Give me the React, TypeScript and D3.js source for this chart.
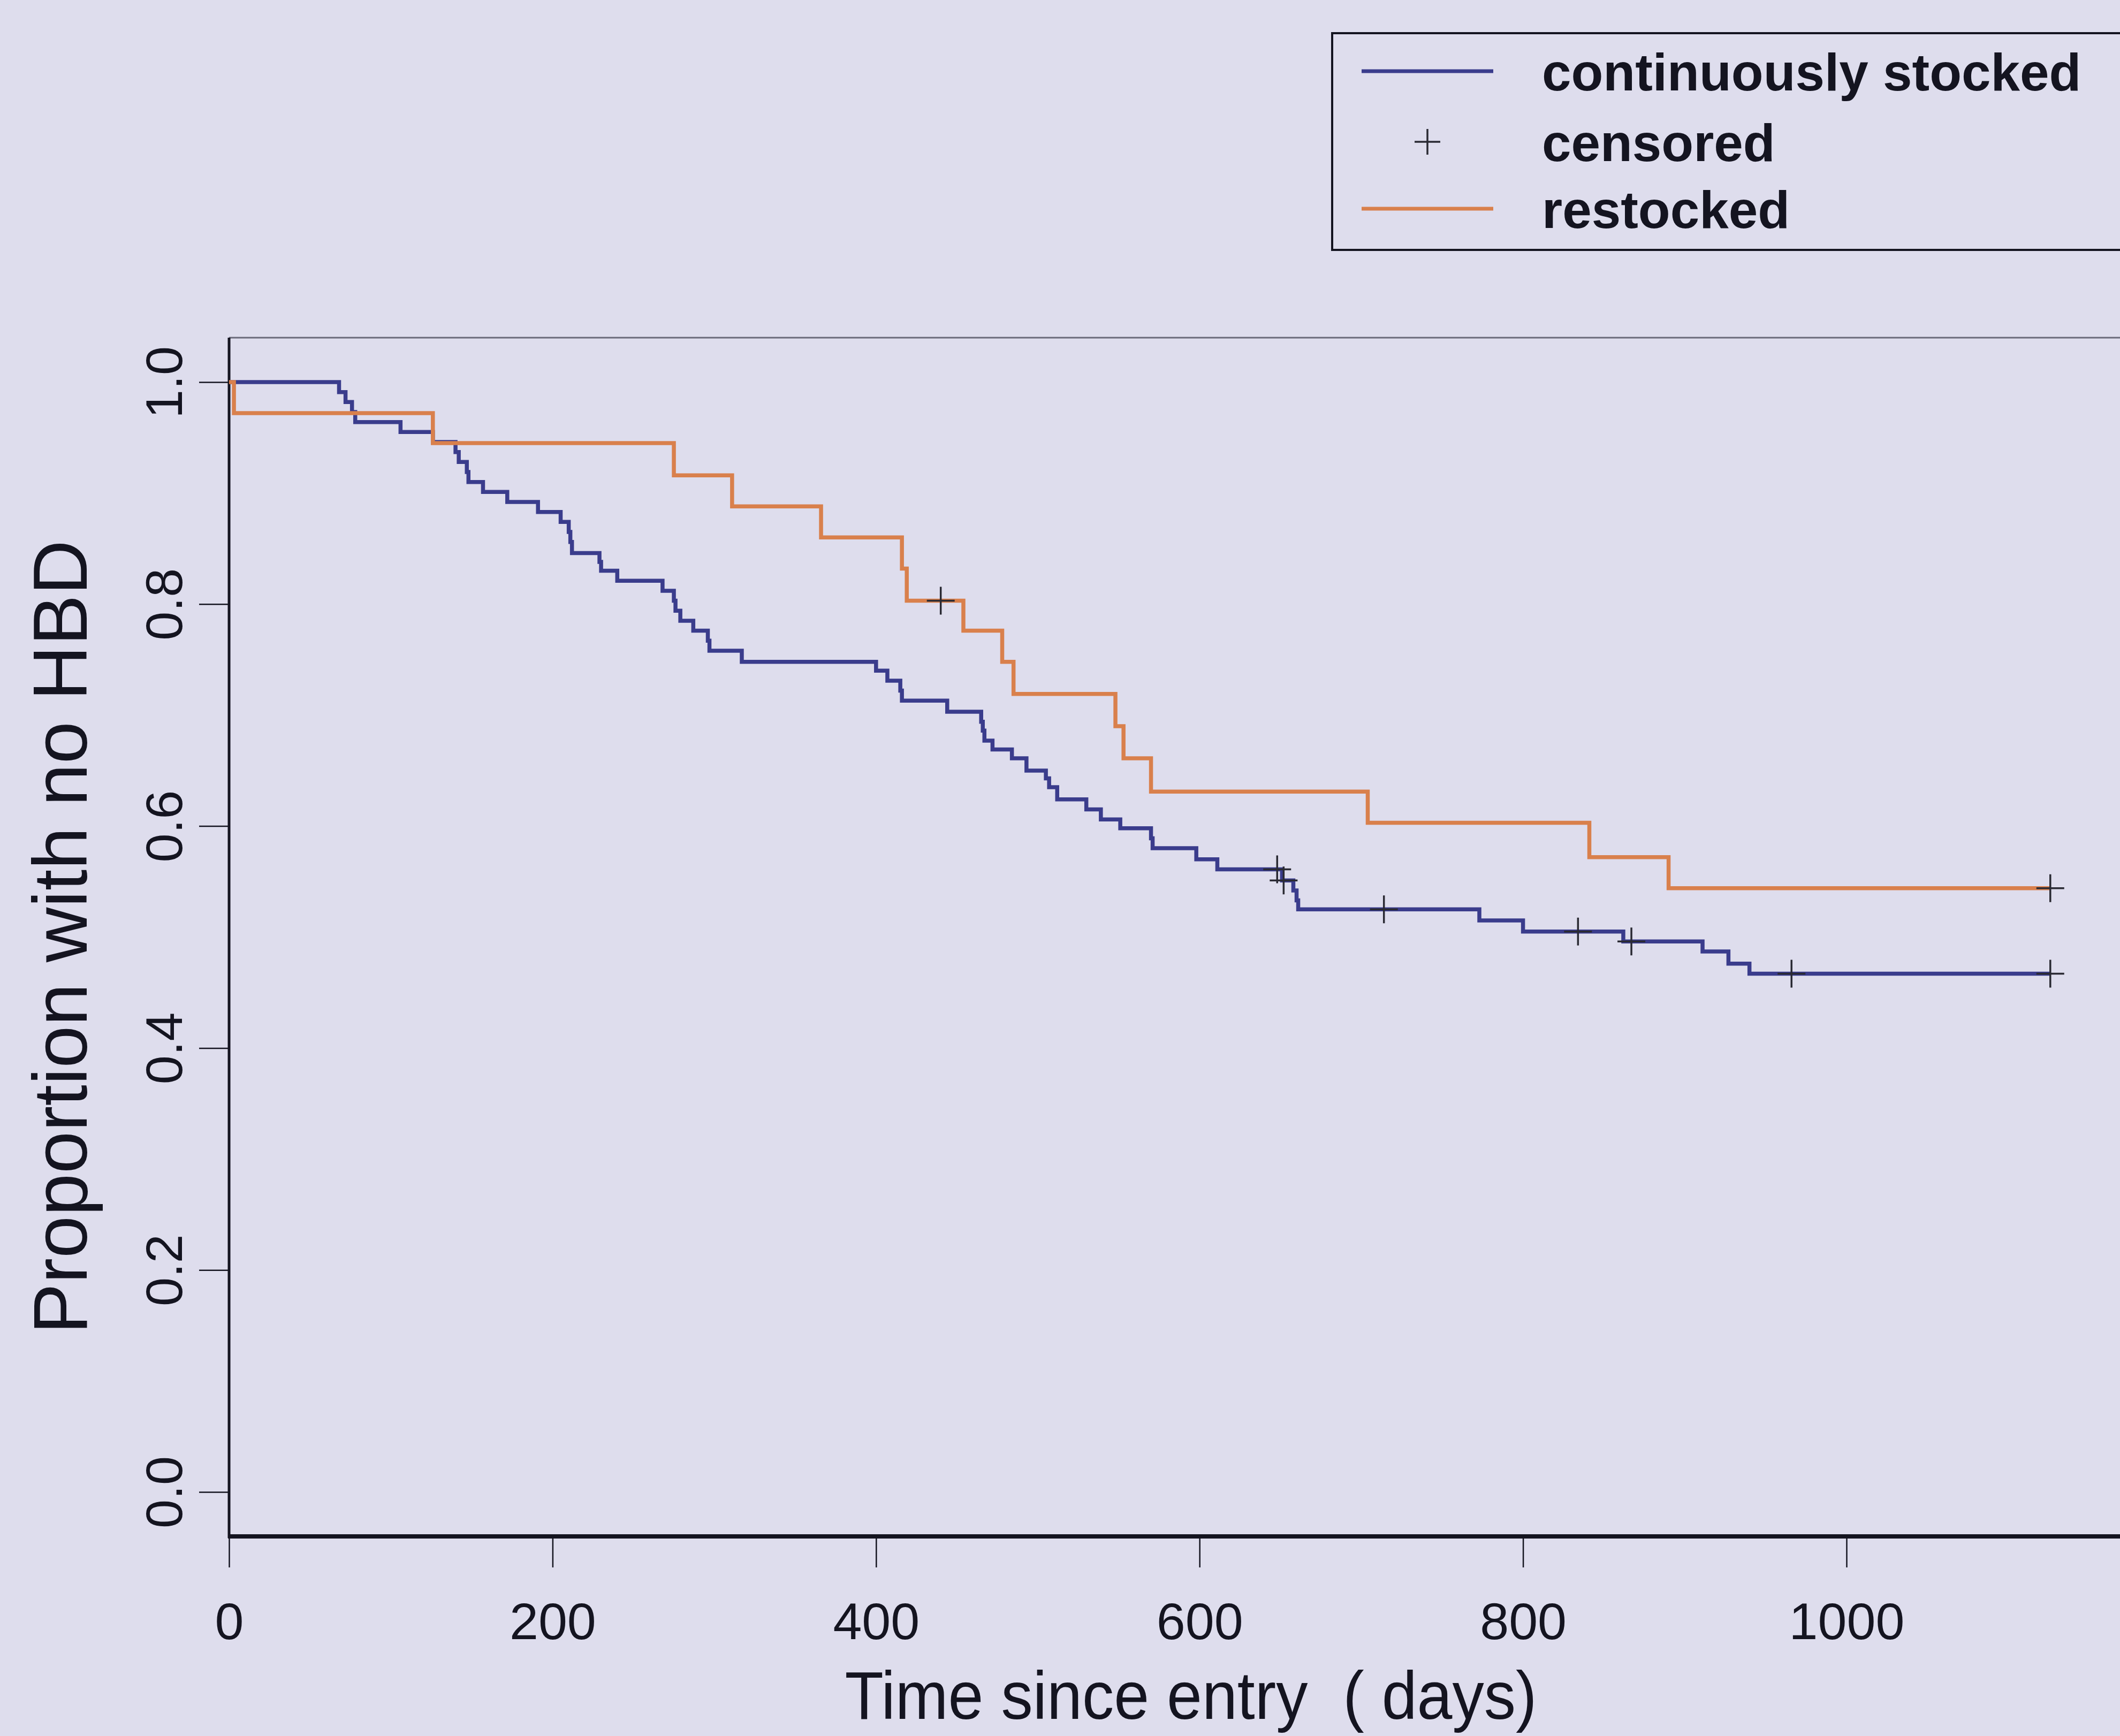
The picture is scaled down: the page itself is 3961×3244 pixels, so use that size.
import { useRef, useEffect } from 'react';
import * as d3 from 'd3';

const W = 3961, H = 3244;

/* ── Kaplan–Meier steps (day, proportion) ───────────────────────── */
const contTimes = [0, 68, 72, 76, 78, 106, 126, 140, 142, 147, 148, 157, 172, 191, 205, 210, 211, 212, 229, 230, 240,
  268, 275, 276, 279, 287, 296, 297, 317, 400, 407, 415, 416, 444, 465, 466, 467, 472, 484, 493, 505, 507, 512,
  530, 539, 551, 570, 571, 598, 611, 651, 658, 660, 661, 773, 800, 862, 911, 927, 940, 1126];
const contSurv = [1.0, 0.991, 0.982, 0.973, 0.964, 0.955, 0.946, 0.937, 0.928, 0.919, 0.910, 0.901, 0.892, 0.883, 0.874, 0.865, 0.856, 0.846, 0.838, 0.830, 0.821,
  0.812, 0.803, 0.794, 0.785, 0.776, 0.767, 0.758, 0.748, 0.740, 0.731, 0.722, 0.713, 0.703, 0.694, 0.686, 0.677, 0.669, 0.661, 0.650, 0.643, 0.635, 0.624,
  0.615, 0.606, 0.598, 0.589, 0.580, 0.570, 0.561, 0.551, 0.542, 0.533, 0.525, 0.515, 0.505, 0.496, 0.487, 0.476, 0.467, 0.467];
const contCensorTimes = [648, 652, 714, 834, 867, 966, 1126];
const contCensorSurv = [0.561, 0.551, 0.525, 0.505, 0.496, 0.467, 0.467];

const restTimes = [0, 3, 126, 275, 311, 366, 416, 419, 454, 478, 485, 548, 553, 570, 704, 841, 890, 1126];
const restSurv = [1.0, 0.972, 0.945, 0.916, 0.888, 0.860, 0.832, 0.803, 0.776, 0.748, 0.719, 0.690, 0.661, 0.631, 0.603, 0.572, 0.544, 0.544];
const restCensorTimes = [440, 1126];
const restCensorSurv = [0.803, 0.544];

const xTicks = [0, 200, 400, 600, 800, 1000];
const yTicks = [0, 0.2, 0.4, 0.6, 0.8, 1.0];

const legendLabels = ["continuously stocked", "censored", "restocked"];

const BG = "#dedded";
const BLUE = "#3a3c8c";
const ORANGE = "#d9804c";
const INK = "#141420";
const FONT = "'Liberation Sans', Arial, Helvetica, sans-serif";

function App() {
  const svgRef = useRef<SVGSVGElement>(null);

  useEffect(() => {
    const svg = d3.select(svgRef.current);
    svg.selectAll("*").remove();

    // pixel scales fitted to the reference axes
    const x = d3.scaleLinear().domain([0, 1000]).range([428, 3450]);
    const y = d3.scaleLinear().domain([0, 1]).range([2788, 714]);
    const top = y(1.04), bottom = y(-0.04), right = x(1200);

    svg.append("rect").attr("width", W).attr("height", H).attr("fill", BG);

    // frame: thin top, heavy left + bottom
    svg.append("line").attr("x1", x(0)).attr("x2", right).attr("y1", top).attr("y2", top)
      .attr("stroke", "#6a6a7a").attr("stroke-width", 3);
    svg.append("line").attr("x1", x(0)).attr("x2", x(0)).attr("y1", top).attr("y2", bottom + 3)
      .attr("stroke", INK).attr("stroke-width", 5);
    svg.append("line").attr("x1", x(0) - 2).attr("x2", right).attr("y1", bottom).attr("y2", bottom)
      .attr("stroke", INK).attr("stroke-width", 8);

    // Y axis
    const yAxis = svg.append("g")
      .attr("transform", `translate(${x(0)},0)`)
      .call(d3.axisLeft(y).tickValues(yTicks).tickFormat(d3.format(".1f")).tickSize(56));
    yAxis.select(".domain").remove();
    yAxis.selectAll("line").attr("stroke", INK).attr("stroke-width", 2.5);
    yAxis.selectAll("text")
      .attr("x", null).attr("dy", null)
      .attr("transform", "translate(-88,0) rotate(-90)")
      .attr("text-anchor", "middle")
      .attr("fill", INK)
      .style("font-family", FONT).style("font-size", "97px");

    // X axis
    const xAxis = svg.append("g")
      .attr("transform", `translate(0,${bottom})`)
      .call(d3.axisBottom(x).tickValues(xTicks).tickFormat(d3.format("d")).tickSize(58));
    xAxis.select(".domain").remove();
    xAxis.selectAll("line").attr("stroke", INK).attr("stroke-width", 2.5);
    xAxis.selectAll("text")
      .attr("y", 192).attr("dy", null)
      .attr("fill", INK)
      .style("font-family", FONT).style("font-size", "97px");

    // axis titles
    svg.append("text")
      .attr("transform", `translate(162,${(top + bottom) / 2}) rotate(-90)`)
      .attr("text-anchor", "middle")
      .attr("fill", INK)
      .style("font-family", FONT).style("font-size", "142px")
      .text("Proportion with no HBD");

    svg.append("text")
      .attr("x", 2225).attr("y", 3212)
      .attr("text-anchor", "middle")
      .attr("textLength", 1293).attr("lengthAdjust", "spacingAndGlyphs")
      .attr("fill", INK)
      .style("font-family", FONT).style("font-size", "126px").style("white-space", "pre")
      .text("Time since entry  ( days)");

    // survival curves
    const line = d3.line<[number, number]>()
      .x(d => x(d[0])).y(d => y(d[1]))
      .curve(d3.curveStepAfter);

    const series = [
      { times: contTimes, surv: contSurv, color: BLUE },
      { times: restTimes, surv: restSurv, color: ORANGE },
    ];
    series.forEach(s => {
      const pts = s.times.map((t, i) => [t, s.surv[i]] as [number, number]);
      svg.append("path")
        .attr("d", line(pts))
        .attr("fill", "none")
        .attr("stroke", s.color)
        .attr("stroke-width", 7.5)
        .attr("stroke-linejoin", "miter");
    });

    // censor marks
    const plus = (g, cx, cy, size) => {
      g.append("path")
        .attr("d", `M${cx - size / 2},${cy}H${cx + size / 2}M${cx},${cy - size / 2}V${cy + size / 2}`)
        .attr("stroke", "#2a2a33").attr("stroke-width", 3.5).attr("fill", "none");
    };
    const marks = svg.append("g");
    contCensorTimes.forEach((t, i) => plus(marks, x(t), y(contCensorSurv[i]), 52));
    restCensorTimes.forEach((t, i) => plus(marks, x(t), y(restCensorSurv[i]), 52));

    // legend
    const legend = svg.append("g");
    legend.append("rect")
      .attr("x", 2489).attr("y", 62).attr("width", 1700).attr("height", 405)
      .attr("fill", "none").attr("stroke", INK).attr("stroke-width", 4);

    const rowBase = [169, 301, 426];
    legendLabels.forEach((lab, i) => {
      const cy = rowBase[i] - 36;
      if (i === 1) {
        plus(legend, 2667, cy, 48);
      } else {
        legend.append("line")
          .attr("x1", 2544).attr("x2", 2790).attr("y1", cy).attr("y2", cy)
          .attr("stroke", i === 0 ? BLUE : ORANGE).attr("stroke-width", 7);
      }
      legend.append("text")
        .attr("x", 2881).attr("y", rowBase[i])
        .attr("fill", INK)
        .style("font-family", FONT).style("font-size", "98px").style("font-weight", "bold")
        .text(lab);
    });
  }, []);

  return (
    <svg ref={svgRef} width={W} height={H}
      style={{ position: 'absolute', left: 0, top: 0, display: 'block' }} />
  );
}

export default App;
